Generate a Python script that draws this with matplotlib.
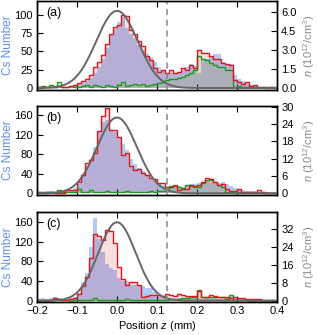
import numpy as np
import matplotlib
matplotlib.use('Agg')
from matplotlib import pyplot as plt

plt.rcParams['font.family'] = ['Liberation Sans', 'DejaVu Sans']
plt.rcParams['mathtext.fontset'] = 'custom'
plt.rcParams['mathtext.rm'] = 'Liberation Sans'
plt.rcParams['mathtext.it'] = 'Liberation Sans:italic'

# bins of 0.01 mm from -0.2 to 0.4
edges = np.round(np.arange(-0.2, 0.4001, 0.01), 3)

# Cs number (left axis)
blue_a = [2, 1, 2, 2, 1, 3, 2, 2, 3, 4,
          5, 7, 10, 14, 20, 28, 40, 55, 72, 80,
          90, 96, 82, 74, 68, 58, 52, 46, 42, 36,
          28, 24, 21, 20, 21, 22, 25, 28, 32, 30,
          20, 40, 40, 42, 46, 46, 36, 33, 32, 18,
          12, 9, 6, 4, 3, 2, 2, 1, 1, 0]
blue_b = [3, 2, 4, 5, 3, 4, 5, 4, 6, 10,
          20, 35, 55, 70, 95, 125, 145, 150, 130, 125,
          115, 100, 88, 70, 60, 52, 45, 38, 30, 25,
          20, 15, 12, 14, 15, 14, 13, 16, 18, 20,
          22, 24, 26, 24, 24, 22, 24, 20, 15, 10,
          8, 6, 5, 5, 4, 3, 3, 2, 2, 1]
blue_c = [3, 5, 4, 6, 8, 5, 4, 6, 5, 8,
          15, 39, 56, 110, 169, 125, 100, 75, 67, 62,
          46, 41, 41, 32, 32, 30, 30, 25, 25, 18,
          12, 8, 6, 5, 4, 5, 4, 3, 5, 6,
          5, 4, 6, 8, 5, 4, 3, 5, 10, 8,
          4, 3, 2, 3, 2, 2, 1, 2, 1, 1]

# density n (right axis)
red_a = [0.1, 0.05, 0.1, 0.05, 0.1, 0.15, 0.1, 0.1, 0.15, 0.2,
         0.37, 0.56, 0.7, 1.0, 1.7, 2.1, 2.6, 3.5, 4.3, 4.8,
         5.0, 5.8, 5.7, 4.6, 4.3, 3.7, 3.3, 2.5, 2.2, 1.6,
         1.3, 1.4, 1.2, 1.4, 1.2, 1.3, 1.6, 1.4, 1.8, 1.6,
         3.0, 2.75, 2.75, 2.5, 2.3, 2.3, 2.0, 1.9, 1.85, 0.6,
         0.5, 0.35, 0.45, 0.15, 0.2, 0.1, 0.05, 0.1, 0.05, 0.05]
green_a = [0.1, 0.15, 0.1, 0.2, 0.1, 0.45, 0.1, 0.1, 0.15, 0.1,
           0.1, 0.15, 0.2, 0.1, 0.2, 0.15, 0.1, 0.2, 0.15, 0.1,
           0.2, 0.45, 0.15, 0.2, 0.35, 0.2, 0.3, 0.15, 0.2, 0.35,
           0.4, 0.5, 0.6, 0.7, 0.7, 0.8, 0.9, 1.0, 1.2, 1.4,
           2.5, 2.3, 2.2, 2.0, 1.85, 1.7, 1.7, 1.4, 1.4, 0.1,
           0.15, 0.1, 0.1, 0.05, 0.1, 0.05, 0.05, 0.0, 0.05, 0.0]
red_b = [0.3, 0.2, 0.1, 0.3, 0.2, 0.1, 0.2, 1.3, 1.0, 1.0,
         4.0, 6.4, 10.4, 11.6, 13.9, 21.4, 26.7, 29.5, 22.0, 22.0,
         19.5, 13.3, 14.0, 9.5, 8.0, 8.5, 7.0, 6.4, 5.3, 5.0,
         3.6, 3.4, 2.3, 2.0, 2.9, 1.3, 1.4, 1.6, 2.9, 2.5,
         2.9, 3.9, 5.2, 4.8, 3.9, 2.9, 3.3, 1.5, 0.9, 0.8,
         1.5, 0.5, 0.4, 0.5, 0.3, 1.2, 0.3, 0.2, 0.2, 0.1]
green_b = [0.3, 0.4, 0.3, 0.5, 0.4, 1.1, 0.5, 0.4, 0.3, 0.5,
           1.6, 0.5, 0.3, 1.0, 0.6, 0.4, 0.5, 0.7, 0.4, 0.5,
           0.6, 0.4, 0.8, 0.5, 0.3, 0.6, 0.4, 0.5, 0.7, 0.6,
           0.8, 0.9, 1.2, 2.5, 2.6, 2.1, 1.8, 2.9, 2.5, 2.1,
           2.1, 3.5, 4.6, 4.6, 3.8, 2.7, 2.3, 0.6, 0.4, 0.3,
           0.3, 0.2, 0.3, 0.2, 0.2, 0.1, 0.2, 0.1, 0.1, 0.1]
red_c = [0.3, 0.5, 0.2, 0.6, 1.2, 0.8, 0.5, 0.6, 0.9, 1.5,
         3.0, 6.7, 10.7, 19.0, 30.0, 29.0, 27.0, 31.4, 31.0, 25.6,
         15.0, 10.0, 7.0, 8.6, 8.6, 7.0, 1.9, 2.3, 2.5, 2.8,
         2.7, 2.3, 2.9, 2.6, 2.4, 2.9, 2.7, 2.2, 2.4, 2.2,
         4.4, 1.9, 2.0, 2.6, 2.4, 1.8, 1.6, 1.7, 1.4, 1.6,
         1.5, 1.2, 1.0, 1.1, 0.9, 1.0, 0.6, 0.5, 0.4, 0.3]
green_c = [0.3, 0.2, 0.6, 0.4, 0.3, 0.5, 0.4, 0.3, 0.2, 0.4,
           0.3, 0.5, 0.4, 0.3, 1.2, 0.6, 0.3, 0.4, 0.5, 0.3,
           0.4, 0.6, 0.8, 0.5, 0.4, 0.3, 0.5, 0.4, 0.3, 0.5,
           0.4, 0.6, 0.5, 0.7, 0.8, 1.0, 1.2, 1.4, 1.6, 1.8,
           4.9, 1.9, 1.9, 2.0, 1.9, 1.8, 1.9, 0.8, 2.7, 0.6,
           0.4, 0.3, 0.3, 0.2, 0.2, 0.3, 0.2, 0.1, 0.1, 0.1]

# gaussian profile (amplitude, centre, width) in Cs number units
gauss_a = (105, 0.0, 0.052)
gauss_b = (155, 0.0, 0.05)
gauss_c = (160, 0.0, 0.047)

cut_z = 0.125

BLUE = '#6495ED'
RED = '#d7191c'
GREEN = '#1a9a1a'


def paintPanel(fig, rect, blue, red, green, gauss, tag,
               ylim, yticks, ylim2, yticks2, bottom=False):
    ax = fig.add_axes(rect)
    ax2 = ax.twinx()

    ax.stairs(blue, edges, fill=True, color=BLUE, alpha=0.5, lw=0)

    ax2.stairs(red, edges, fill=True, color=RED, alpha=0.15, lw=0)
    ax2.stairs(green, edges, fill=True, color='#7fbf3f', alpha=0.18, lw=0)
    ax2.stairs(green, edges, color=GREEN, lw=1.0)
    ax2.stairs(red, edges, color=RED, lw=1.0)

    xs = np.linspace(-0.2, 0.4, 400)
    amp, mu, sig = gauss
    ax2.plot(xs, amp * np.exp(-0.5 * ((xs - mu) / sig) ** 2),
             color='#666666', lw=1.4, transform=ax.transData)
    ax2.axvline(cut_z, color='#888888', lw=1.1, dashes=(4, 3))

    ax.set_xlim(-0.2, 0.4)
    ax.set_xticks([-0.2, -0.1, 0.0, 0.1, 0.2, 0.3, 0.4])
    ax.set_ylim(*ylim)
    ax.set_yticks(yticks)
    ax2.set_ylim(*ylim2)
    ax2.set_yticks(yticks2)

    ax.tick_params(direction='in', length=4, width=0.8, labelsize=8,
                   top=True, right=False, labelbottom=bottom, pad=3)
    ax2.tick_params(direction='in', length=4, width=0.8, labelsize=8, pad=3)
    for a in (ax, ax2):
        for s in a.spines.values():
            s.set_linewidth(1.0)

    ax.text(0.04, 0.93, tag, transform=ax.transAxes, fontsize=9,
            va='top', ha='left')
    return ax


W, H = 317.0, 335.0
fig = plt.figure(figsize=(W / 100, H / 100), dpi=100)

def rect(top, bottom):
    return [37 / W, 1 - bottom / H, 240 / W, (bottom - top) / H]

paintPanel(fig, rect(1, 90), blue_a, red_a, green_a, gauss_a, '(a)',
           (-2.7, 118.4), [0, 25, 50, 75, 100],
           (-0.16, 6.9), [0.0, 1.5, 3.0, 4.5, 6.0])
paintPanel(fig, rect(106, 195), blue_b, red_b, green_b, gauss_b, '(b)',
           (-3.5, 178.5), [0, 40, 80, 120, 160],
           (-0.6, 30.2), [0, 6, 12, 18, 24, 30])
ax_c = paintPanel(fig, rect(212, 302), blue_c, red_c, green_c, gauss_c, '(c)',
                  (-2.7, 181), [0, 40, 80, 120, 160],
                  (-0.44, 39.6), [0, 8, 16, 24, 32], bottom=True)
ax_c.set_xlabel('Position $z$ (mm)', fontsize=8, labelpad=2)

for top, bottom in [(1, 90), (106, 195), (212, 302)]:
    yc = 1 - (top + bottom) / 2 / H
    fig.text(8 / W, yc, 'Cs Number', color='#5b8fe6', fontsize=8.5,
             rotation=90, ha='center', va='center')
    fig.text(309 / W, yc, '$n$ (10$^{12}$/cm$^3$)', color='#888888',
             fontsize=8, rotation=90, ha='center', va='center')

plt.savefig('out.png', dpi=100)
plt.close('all')
